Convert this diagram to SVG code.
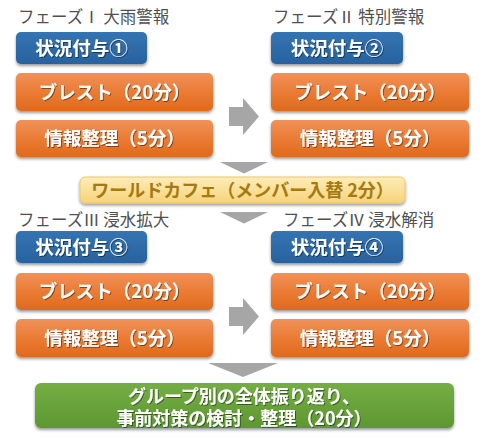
<svg xmlns="http://www.w3.org/2000/svg" width="483" height="438" viewBox="0 0 483 438">
<defs>
<linearGradient id="gBlue" x1="0" y1="0" x2="0" y2="1"><stop offset="0" stop-color="#3474B2"/><stop offset="1" stop-color="#2862A0"/></linearGradient>
<linearGradient id="gOrange" x1="0" y1="0" x2="0" y2="1"><stop offset="0" stop-color="#F0925A"/><stop offset="0.5" stop-color="#EB7B35"/><stop offset="1" stop-color="#E06A1C"/></linearGradient>
<linearGradient id="gYellow" x1="0" y1="0" x2="0" y2="1"><stop offset="0" stop-color="#FDEDB8"/><stop offset="1" stop-color="#F6D37A"/></linearGradient>
<linearGradient id="gGreen" x1="0" y1="0" x2="0" y2="1"><stop offset="0" stop-color="#74AE44"/><stop offset="1" stop-color="#5E9731"/></linearGradient>
<filter id="sh" x="-10%" y="-20%" width="120%" height="150%"><feDropShadow dx="0" dy="2" stdDeviation="1.5" flood-color="#000" flood-opacity="0.4"/></filter>
<filter id="tsh" x="-10%" y="-20%" width="120%" height="150%"><feDropShadow dx="1" dy="1" stdDeviation="0.6" flood-color="#000" flood-opacity="0.45"/></filter>
</defs>
<style>
.lbl{font-family:"Noto Sans CJK JP","Noto Sans",sans-serif;font-size:16.5px;fill:#505050}
.bt{font-family:"Noto Sans CJK JP","Noto Sans",sans-serif;font-weight:bold;font-size:18.5px;fill:#fff;text-anchor:middle;filter:url(#tsh)}
.gt{font-size:18px}
.yt{font-family:"Noto Sans CJK JP","Noto Sans",sans-serif;font-weight:bold;font-size:18px;fill:#A57A12;text-anchor:middle}
.blue{fill:url(#gBlue);filter:url(#sh)}
.orange{fill:url(#gOrange);filter:url(#sh)}
.yellow{fill:url(#gYellow);stroke:#EAC76C;stroke-width:1;filter:url(#sh)}
.green{fill:url(#gGreen);filter:url(#sh)}
.arr{fill:#A6A6A6}
</style>
<g id="connectors">
<polygon class="arr" points="229,107 243,107 243,98 259,116.5 243,135 243,126 229,126"/>
<polygon class="arr" points="229,307 243,307 243,298 259,316.5 243,335 243,326 229,326"/>
<polygon class="arr" points="220,162 268,162 244,173.5"/>
<polygon class="arr" points="220,212 268,212 244,223.5"/>
<polygon class="arr" points="208,363 278,363 243,377"/>
</g>
<g id="phase1">
<text class="lbl" x="18" y="23">フェーズⅠ 大雨警報</text>
<g id="p1-status"><rect class="blue" x="16" y="32" width="131" height="32" rx="5"/><text class="bt" x="81.5" y="54.5">状況付与①</text></g>
<g id="p1-brainstorm"><rect class="orange" x="16" y="73" width="197" height="38" rx="5"/><text class="bt" x="114.5" y="98.5">ブレスト（20分）</text></g>
<g id="p1-info"><rect class="orange" x="16" y="120" width="197" height="37" rx="5"/><text class="bt" x="114.5" y="145">情報整理（5分）</text></g>
</g>
<g id="phase2">
<text class="lbl" x="273" y="23">フェーズⅡ 特別警報</text>
<g id="p2-status"><rect class="blue" x="271" y="32" width="132" height="32" rx="5"/><text class="bt" x="337" y="54.5">状況付与②</text></g>
<g id="p2-brainstorm"><rect class="orange" x="271" y="73" width="198" height="38" rx="5"/><text class="bt" x="370" y="98.5">ブレスト（20分）</text></g>
<g id="p2-info"><rect class="orange" x="271" y="120" width="198" height="37" rx="5"/><text class="bt" x="370" y="145">情報整理（5分）</text></g>
</g>
<g id="worldcafe"><rect class="yellow" x="80" y="177" width="325" height="26" rx="5"/><text class="yt" x="242.5" y="196.5">ワールドカフェ（メンバー入替 2分）</text></g>
<g id="phase3">
<text class="lbl" x="18" y="226">フェーズⅢ 浸水拡大</text>
<g id="p3-status"><rect class="blue" x="16" y="231" width="131" height="32" rx="5"/><text class="bt" x="81.5" y="253.5">状況付与③</text></g>
<g id="p3-brainstorm"><rect class="orange" x="16" y="273" width="197" height="37" rx="5"/><text class="bt" x="114.5" y="298">ブレスト（20分）</text></g>
<g id="p3-info"><rect class="orange" x="16" y="319" width="197" height="38" rx="5"/><text class="bt" x="114.5" y="344.5">情報整理（5分）</text></g>
</g>
<g id="phase4">
<text class="lbl" x="283" y="226">フェーズⅣ 浸水解消</text>
<g id="p4-status"><rect class="blue" x="271" y="231" width="132" height="32" rx="5"/><text class="bt" x="337" y="253.5">状況付与④</text></g>
<g id="p4-brainstorm"><rect class="orange" x="271" y="273" width="198" height="37" rx="5"/><text class="bt" x="370" y="298">ブレスト（20分）</text></g>
<g id="p4-info"><rect class="orange" x="271" y="319" width="198" height="38" rx="5"/><text class="bt" x="370" y="344.5">情報整理（5分）</text></g>
</g>
<g id="review"><rect class="green" x="35" y="383" width="419" height="45" rx="6"/>
<text class="bt gt" x="244" y="403"><tspan x="244" y="403">グループ別の全体振り返り、</tspan><tspan x="244" y="425">事前対策の検討・整理（20分）</tspan></text></g>
</svg>
